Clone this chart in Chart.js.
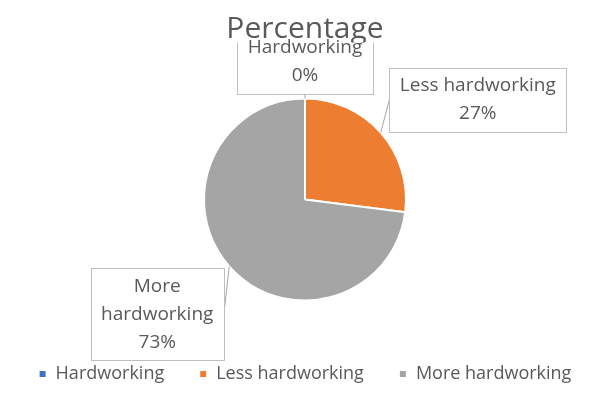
<!DOCTYPE html>
<html lang="en">
<head>
<meta charset="UTF-8">
<title>Percentage</title>
<script src="https://cdn.jsdelivr.net/npm/chart.js"></script>
<style>
  html, body { margin: 0; padding: 0; background: #fff; }
  #wrap { width: 610px; height: 401px; }
</style>
</head>
<body>
<div id="wrap"><canvas id="grafico"></canvas></div>
<script>
// Slices
const categorias = ['Hardworking', 'Less hardworking', 'More hardworking'];
const percentuais = [0, 27, 73];
const cores = ['#4472C4', '#ED7D31', '#A5A5A5'];
// Callout text, wrapped the way it is shown (the % line is added from the values)
const linhasRotulo = [['Hardworking'], ['Less hardworking'], ['More', 'hardworking']];

const FONTE = "'Open Sans', 'Noto Sans', sans-serif";
const CINZA = '#595959';

// Boxed data labels with a leader line to the slice edge
const calloutPlugin = {
  id: 'callouts',
  afterDatasetsDraw(chart, args, opts) {
    const ctx = chart.ctx;
    const meta = chart.getDatasetMeta(0);

    // keep the boxes off the title text (title stays on top)
    const tb = chart.titleBlock;
    const t = chart.options.plugins.title;
    ctx.save();
    ctx.font = t.font.size + 'px ' + FONTE;
    const tw = ctx.measureText(t.text).width;
    ctx.restore();
    const tTop = tb.top + t.padding.top;
    const tLeft = (tb.left + tb.right) / 2 - tw / 2 - 3;

    ctx.save();
    ctx.font = opts.fontSize + 'px ' + FONTE;
    meta.data.forEach((arc, i) => {
      const p = arc.getProps(['x', 'y', 'startAngle', 'endAngle', 'outerRadius'], true);
      const mid = (p.startAngle + p.endAngle) / 2;
      const px = p.x + Math.cos(mid) * p.outerRadius;
      const py = p.y + Math.sin(mid) * p.outerRadius;

      const linhas = [...linhasRotulo[i], percentuais[i] + '%'];
      const w = Math.max(...linhas.map(l => ctx.measureText(l).width)) + opts.padX * 2;
      const h = linhas.length * opts.lineHeight + opts.padY * 2;
      const cx = px + opts.offsets[i][0];
      const cy = py + opts.offsets[i][1];
      const left = cx - w / 2, top = cy - h / 2;

      // leader line goes to the middle of the side facing the slice
      let ex, ey;
      if (left + w < px) { ex = left + w; ey = cy; }
      else if (left > px) { ex = left; ey = cy; }
      else { ex = cx; ey = top + h; }
      ctx.strokeStyle = '#A6A6A6';
      ctx.lineWidth = 1;
      ctx.beginPath();
      ctx.moveTo(px, py);
      ctx.lineTo(ex, ey);
      ctx.stroke();

      ctx.save();
      ctx.beginPath();
      ctx.rect(0, 0, chart.width, chart.height);
      ctx.rect(tLeft, tTop, tw + 6, t.font.size * 1.05);
      ctx.clip('evenodd');
      ctx.fillStyle = '#FFFFFF';
      ctx.fillRect(left, top, w, h);
      ctx.strokeStyle = '#BFBFBF';
      ctx.strokeRect(Math.round(left) + 0.5, Math.round(top) + 0.5, Math.round(w), Math.round(h));
      ctx.restore();

      ctx.fillStyle = CINZA;
      ctx.textAlign = 'center';
      ctx.textBaseline = 'middle';
      linhas.forEach((l, k) => {
        ctx.fillText(l, cx, top + opts.padY + opts.lineHeight * (k + 0.5));
      });
    });
    ctx.restore();
  }
};

new Chart(document.getElementById('grafico').getContext('2d'), {
  type: 'pie',
  data: {
    labels: categorias,
    datasets: [{
      data: percentuais,
      backgroundColor: cores,
      borderColor: '#FFFFFF',
      borderWidth: 2,
      radius: 101
    }]
  },
  options: {
    responsive: true,
    maintainAspectRatio: false,
    animation: false,
    layout: { padding: { top: 0, bottom: 8, left: 0, right: 0 } },
    plugins: {
      title: {
        display: true,
        text: 'Percentage',
        color: CINZA,
        font: { family: FONTE, size: 30, weight: 'normal' },
        padding: { top: 11, bottom: 22 }
      },
      legend: {
        position: 'bottom',
        labels: {
          color: CINZA,
          font: { family: FONTE, size: 18 },
          boxWidth: 8,
          boxHeight: 8,
          padding: 35
        }
      },
      tooltip: { enabled: false },
      callouts: {
        fontSize: 19,
        lineHeight: 28,
        padX: 10.5,
        padY: 4,
        offsets: [[0, -37], [97, -33], [-72, 48]]
      }
    }
  },
  plugins: [calloutPlugin]
});
</script>
</body>
</html>
